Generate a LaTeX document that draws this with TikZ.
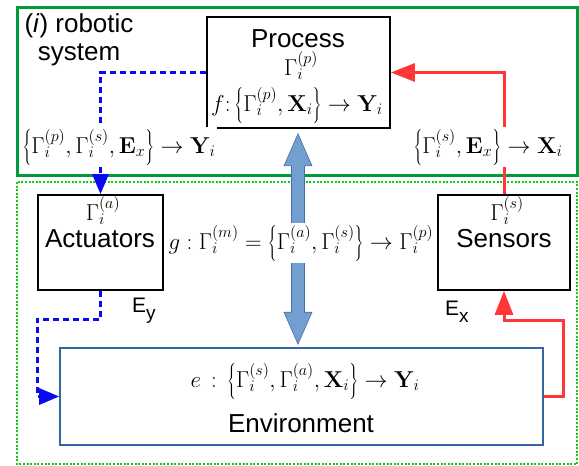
\RequirePackage{fix-cm}
\documentclass[tikz,border=0pt]{standalone}
\usepackage[no-math]{fontspec}
\setmainfont{Liberation Sans}
\usetikzlibrary{arrows.meta,calc,positioning}
\definecolor{sysgreen}{RGB}{0,155,60}
\definecolor{envgreen}{RGB}{20,200,20}
\definecolor{actblue}{RGB}{10,10,240}
\definecolor{sensred}{RGB}{255,55,55}
\definecolor{flowfill}{RGB}{114,159,207}
\definecolor{flowedge}{RGB}{70,110,170}
\definecolor{envedge}{RGB}{52,101,164}
\tikzset{
  box/.style={draw=black, line width=1.6pt, inner sep=0pt},
  envbox/.style={draw=envedge, line width=1.6pt, inner sep=0pt},
  title/.style={font=\fontsize{26}{28}\selectfont, inner sep=0pt},
  mathlbl/.style={font=\fontsize{23}{25}\selectfont, inner sep=1pt},
  cutlbl/.style={mathlbl, fill=white, inner sep=2pt},
  elbl/.style={font=\fontsize{21}{22}\selectfont, inner sep=0pt},
  actline/.style={draw=actblue, line width=3pt, dash pattern=on 6pt off 4pt,
    -{Triangle[length=20pt,width=16pt]}},
  sensline/.style={draw=sensred, line width=3pt,
    -{Triangle[length=24pt,width=18pt]}},
}
\newcommand{\lowsub}[1]{\raisebox{-7pt}{\fontsize{19}{19}\selectfont #1}}
\begin{document}
\begin{tikzpicture}[x=1pt,y=-1pt]
		\useasboundingbox (0,0) rectangle (579,466);
		
		%%%%% FRAMES %%%%%
		\draw[sysgreen, line width=3pt] (17,7) rectangle (577,175);
		\draw[envgreen, line width=2.4pt, dash pattern=on 2pt off 1.6pt] (17,182) rectangle (577,464);
		\node[title, align=center, anchor=north] (robtxt) at (79,13) {(\textit{i}) robotic\\system};
		
		%%%%% BOXES %%%%%
		\node[box, minimum width=183pt, minimum height=111pt] (process) at (298.5,72.5) {};
		\node[box, minimum width=125pt, minimum height=95pt] (act) at (100.5,242.5) {};
		\node[box, minimum width=132pt, minimum height=95pt] (sens) at (504,242.5) {};
		\node[envbox, minimum width=483pt, minimum height=97pt] (env) at (301.5,396.5) {};
		
		\node[title, anchor=base] (proctxt) at (298,47) {Process};
		\node[mathlbl, inner sep=0pt, anchor=base] (procgam) at (301,75) {$\Gamma_i^{(p)}$};
		\node[mathlbl, anchor=base] (flbl) at (297,111) {$f\colon \left\{\Gamma_i^{(p)},\mathbf{X}_i\right\}\rightarrow\mathbf{Y}_i$};
		
		\node[mathlbl, anchor=base] (actgam) at (103,220) {$\Gamma_i^{(a)}$};
		\node[title, anchor=base] (acttxt) at (100,247) {Actuators};
		\node[mathlbl, anchor=base] (sensgam) at (507,220) {$\Gamma_i^{(s)}$};
		\node[title, anchor=base] (senstxt) at (504,247) {Sensors};
		
		\node[mathlbl, anchor=base] (elbl) at (305,387) {$e\,:\,\left\{\Gamma_i^{(s)},\Gamma_i^{(a)},\mathbf{X}_i\right\}\rightarrow\mathbf{Y}_i$};
		\node[title, anchor=base] (envtxt) at (301,432) {Environment};
		
		\node[elbl, anchor=base west] (ey) at (132,312) {E\lowsub{y}};
		\node[elbl, anchor=base west] (ex) at (445,315) {E\lowsub{x}};
		
		%%%%% FLOW %%%%%
		\coordinate (ptop) at ($(process.south)+(-0.5,5)$);
		\coordinate (pbot) at ($(ptop |- env.north)+(0,-3)$);
		\draw[flowedge, fill=flowfill, line width=0.6pt] (ptop) -- ($(ptop)+(14,32)$) -- ($(ptop)+(6.5,32)$)
			-- ($(pbot)+(6.5,-32)$) -- ($(pbot)+(14,-32)$) -- (pbot) -- ($(pbot)+(-14,-32)$)
			-- ($(pbot)+(-6.5,-32)$) -- ($(ptop)+(-6.5,32)$) -- ($(ptop)+(-14,32)$) -- cycle;
		
		%%%%% CONNECTORS %%%%%
		\coordinate (yturn) at (37,319);
		\coordinate (xturn) at (563,320);
		\draw[actline] (process.west) -| (act.north);
		\draw[actline] (act.south) |- (yturn) |- (env.west);
		\draw[sensline] (sens.north) |- (process.east);
		\draw[sensline] (env.east) -| (xturn) -| (sens.south);
		
		%%%%% LABELS %%%%%
		\node[cutlbl, anchor=base] (ylbl) at (119,153) {$\left\{\Gamma_i^{(p)},\Gamma_i^{(s)},\mathbf{E}_x\right\}\rightarrow\mathbf{Y}_i$};
		\node[cutlbl, anchor=base] (xlbl) at (488,153) {$\left\{\Gamma_i^{(s)},\mathbf{E}_x\right\}\rightarrow\mathbf{X}_i$};
		\node[cutlbl, anchor=base] (glbl) at (301,249) {$g:\Gamma_i^{(m)}=\left\{\Gamma_i^{(a)},\Gamma_i^{(s)}\right\}\rightarrow\Gamma_i^{(p)}$};
		
	\end{tikzpicture}
\end{document}
